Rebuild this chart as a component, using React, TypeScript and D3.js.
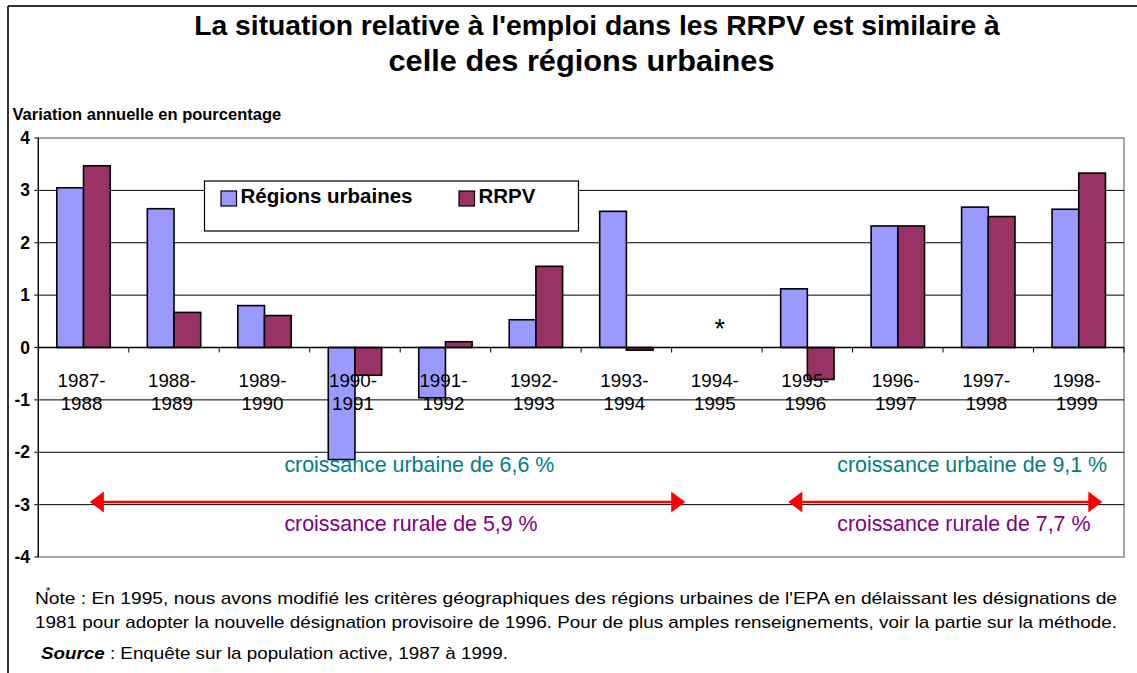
import React from "react";
import * as d3 from "d3";

const categories = [
  "1987-1988",
  "1988-1989",
  "1989-1990",
  "1990-1991",
  "1991-1992",
  "1992-1993",
  "1993-1994",
  "1994-1995",
  "1995-1996",
  "1996-1997",
  "1997-1998",
  "1998-1999",
];
const urbaines: (number | null)[] = [3.05, 2.65, 0.8, -2.14, -0.96, 0.53, 2.6, null, 1.12, 2.32, 2.68, 2.64];
const rrpv: (number | null)[] = [3.47, 0.67, 0.61, -0.53, 0.11, 1.55, -0.05, null, -0.61, 2.32, 2.5, 3.33];
const yTicks = [-4, -3, -2, -1, 0, 1, 2, 3, 4];
const seriesNames = ["Régions urbaines", "RRPV"];
const seriesColors = ["#9999FF", "#993366"];

// arrows: spans in category units, at value -2.95
const arrowSpans = [
  [0.57, 7.15],
  [8.29, 11.76],
];
const arrowValue = -2.95;
const annotations = [
  { text: "croissance urbaine de 6,6 %", pos: 2.72, value: -2.38, color: "#008080" },
  { text: "croissance rurale de 5,9 %", pos: 2.72, value: -3.5, color: "#800080" },
  { text: "croissance urbaine de 9,1 %", pos: 8.83, value: -2.38, color: "#008080" },
  { text: "croissance rurale de 7,7 %", pos: 8.83, value: -3.5, color: "#800080" },
];
const missingCategory = "1994-1995";

const FONT = "'Liberation Sans', Arial, sans-serif";

const App = () => {
  const width = 1137,
    height = 673,
    left = 38.3,
    right = 1124,
    top = 138,
    bottom = 557;

  const x = d3
    .scaleBand()
    .domain(categories)
    .range([left, right])
    .paddingInner(0.41)
    .paddingOuter(0.205);
  const xs = d3.scaleBand().domain(["u", "r"]).range([0, x.bandwidth()]);
  const y = d3.scaleLinear().domain([-4, 4]).range([bottom, top]);
  const pos = d3.scaleLinear().domain([0, categories.length]).range([left, right]);
  const step = x.step();
  const center = (c: string) => (x(c) as number) + x.bandwidth() / 2;

  const bars: { key: string; x: number; y: number; w: number; h: number; fill: string }[] = [];
  categories.forEach((c, i) => {
    [urbaines[i], rrpv[i]].forEach((v, s) => {
      if (v === null) return;
      const bx = (x(c) as number) + (xs(s === 0 ? "u" : "r") as number);
      bars.push({
        key: c + s,
        x: bx,
        y: y(Math.max(0, v)),
        w: xs.bandwidth(),
        h: Math.abs(y(v) - y(0)),
        fill: seriesColors[s],
      });
    });
  });

  const arrowHead = (tipX: number, cy: number, dir: number) => {
    const p = d3.path();
    p.moveTo(tipX, cy);
    p.lineTo(tipX - dir * 14, cy - 10.5);
    p.lineTo(tipX - dir * 14, cy + 10.5);
    p.closePath();
    return p.toString();
  };

  return (
    <svg
      width={width}
      height={height}
      style={{ position: "absolute", left: 0, top: 0, background: "#fff" }}
      fontFamily={FONT}
    >
      <rect x={0} y={0} width={width} height={height} fill="#fff" />
      {/* outer frame */}
      <line x1={8} x2={width} y1={6} y2={6} stroke="#333" strokeWidth={2} />
      <line x1={8} x2={8} y1={6} y2={height} stroke="#333" strokeWidth={2} />

      {/* title */}
      <text x={597} y={35} textAnchor="middle" fontSize={28.3} fontWeight="bold">
        La situation relative à l'emploi dans les RRPV est similaire à
      </text>
      <text
        x={581.5}
        y={71}
        textAnchor="middle"
        fontSize={29.5}
        fontWeight="bold"
        textLength={386}
        lengthAdjust="spacingAndGlyphs"
      >
        celle des régions urbaines
      </text>

      <text x={12.5} y={119.5} fontSize={16.5} fontWeight="bold">
        Variation annuelle en pourcentage
      </text>

      {/* plot border */}
      <rect x={left} y={top} width={right - left} height={bottom - top} fill="none" stroke="#888" strokeWidth={1.5} />

      {/* gridlines */}
      {yTicks
        .filter((t) => t > -4 && t < 4 && t !== 0)
        .map((t) => (
          <line key={t} x1={left} x2={right} y1={y(t)} y2={y(t)} stroke="#000" strokeWidth={1} />
        ))}

      {/* y axis */}
      <line x1={left} x2={left} y1={top} y2={bottom} stroke="#000" strokeWidth={1.2} />
      {yTicks.map((t) => (
        <g key={"yt" + t}>
          <line x1={left - 4} x2={left} y1={y(t)} y2={y(t)} stroke="#000" />
          <text x={30} y={y(t) + 6} textAnchor="end" fontSize={17.5} fontWeight="bold">
            {t}
          </text>
        </g>
      ))}

      {/* legend */}
      <rect x={204.5} y={181} width={374} height={50} fill="#fff" stroke="#000" strokeWidth={1.2} />
      {seriesNames.map((n, i) => {
        const lx = i === 0 ? 221 : 459;
        return (
          <g key={n}>
            <rect x={lx} y={191} width={15.5} height={15} fill={seriesColors[i]} stroke="#000" strokeWidth={1.2} />
            <text x={lx + 19.5} y={203} fontSize={20.5} fontWeight="bold">
              {n}
            </text>
          </g>
        );
      })}

      {/* bars */}
      {bars.map((b) => (
        <rect key={b.key} x={b.x} y={b.y} width={b.w} height={b.h} fill={b.fill} stroke="#000" strokeWidth={1.6} />
      ))}

      {/* zero axis with ticks */}
      <line x1={left} x2={right} y1={y(0)} y2={y(0)} stroke="#000" strokeWidth={1.5} />
      {d3.range(1, categories.length + 1).map((k) => (
        <line key={"xt" + k} x1={left + k * step} x2={left + k * step} y1={y(0)} y2={y(0) + 5} stroke="#000" />
      ))}

      {/* category labels */}
      {categories.map((c) => {
        const [a, b] = c.split("-");
        return (
          <g key={"lab" + c} fontSize={18.8} textAnchor="middle">
            <text x={center(c) - 2} y={387}>
              {a}-
            </text>
            <text x={center(c) - 2} y={410}>
              {b}
            </text>
          </g>
        );
      })}

      <text x={center(missingCategory) + 3} y={338} textAnchor="middle" fontSize={27}>
        *
      </text>

      {/* annotations */}
      {annotations.map((a) => (
        <text key={a.text} x={pos(a.pos)} y={y(a.value)} fontSize={21.4} fill={a.color}>
          {a.text}
        </text>
      ))}
      {arrowSpans.map(([s, e]) => {
        const cy = y(arrowValue);
        return (
          <g key={"arr" + s}>
            <line x1={pos(s) + 10} x2={pos(e) - 10} y1={cy} y2={cy} stroke="#FF0000" strokeWidth={2.5} />
            <path d={arrowHead(pos(s), cy, -1)} fill="#FF0000" />
            <path d={arrowHead(pos(e), cy, 1)} fill="#FF0000" />
          </g>
        );
      })}

      {/* note */}
      <text x={46} y={595} fontSize={11}>
        *
      </text>
      <text x={35} y={604} fontSize={17} textLength={1082} lengthAdjust="spacingAndGlyphs">
        Note : En 1995, nous avons modifié les critères géographiques des régions urbaines de l'EPA en délaissant les désignations de
      </text>
      <text x={35} y={628} fontSize={17} textLength={1082} lengthAdjust="spacingAndGlyphs">
        1981 pour adopter la nouvelle désignation provisoire de 1996. Pour de plus amples renseignements, voir la partie sur la méthode.
      </text>
      <text x={41} y={659} fontSize={17} textLength={467} lengthAdjust="spacingAndGlyphs">
        <tspan fontWeight="bold" fontStyle="italic">
          Source
        </tspan>
        <tspan> : Enquête sur la population active, 1987 à 1999.</tspan>
      </text>
    </svg>
  );
};

export default App;
